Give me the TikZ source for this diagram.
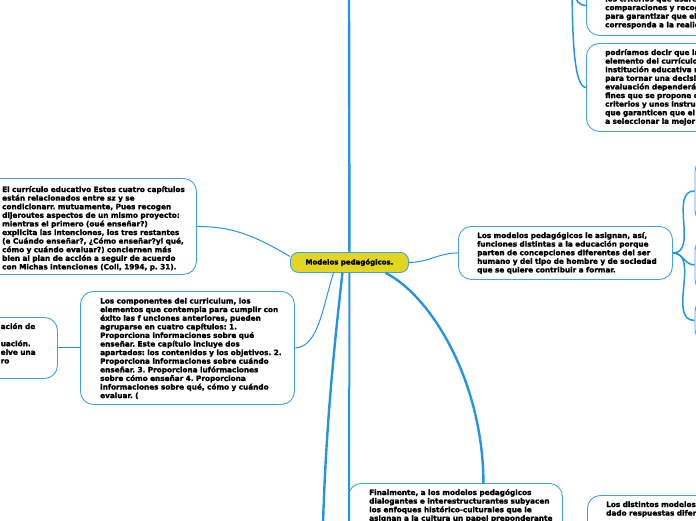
\documentclass[tikz,border=0pt]{standalone}
\usepackage{fontspec}
\setmainfont{DejaVu Sans}[BoldFeatures={FakeBold=2}]
\definecolor{linec}{RGB}{38,148,226}
\definecolor{bordc}{RGB}{64,163,233}
\definecolor{centfill}{RGB}{226,214,32}
\newcommand{\mmfont}{\fontsize{7.3}{8.6}\selectfont\bfseries\frenchspacing}
\newcommand{\mmcfont}{\fontsize{7.0}{8.6}\selectfont\bfseries\frenchspacing}
\begin{document}
\begin{tikzpicture}[x=1pt,y=-1pt,
  box/.style={draw=bordc, line width=0.9pt, rounded corners=13pt, fill=white, inner sep=0pt, anchor=north west},
  txt/.style={font=\mmfont, align=left, inner sep=0pt, anchor=base west, text width=260pt},
  thin link/.style={draw=linec, line width=1pt},
  mid link/.style={draw=linec, line width=1.5pt},
  main link/.style={draw=linec, line width=2.4pt},
]
\useasboundingbox (0,0) rectangle (696,520);

% boxes
\node[box, minimum width=216pt, minimum height=96pt] (b1) at (-20,178) {};
\node[box, minimum width=97pt, minimum height=61pt] (bac) at (-40,317) {};
\node[box, minimum width=214pt, minimum height=113pt] (comp) at (80,291) {};
\node[box, fill=centfill, rounded corners=8pt, minimum width=118pt, minimum height=20pt, font=\mmcfont] (c) at (290,252) {Modelos pedagógicos.};
\node[box, minimum width=214pt, minimum height=53pt] (mod) at (458,226) {};
\node[box, minimum width=214pt, minimum height=80pt] (fin) at (348,483) {};
\node[box, minimum width=150pt, minimum height=60pt] (dist) at (587,495) {};
\node[box, minimum width=150pt, minimum height=60pt] (bA) at (586,-25) {};
\node[box, minimum width=150pt, minimum height=88pt] (bB) at (586,43) {};
\node[box, minimum width=100pt, minimum height=65pt] (r1) at (694.5,158) {};
\node[box, minimum width=100pt, minimum height=55pt] (r2) at (694.5,237) {};
\node[box, minimum width=100pt, minimum height=44pt] (r3) at (694.5,298) {};

% free ends
\coordinate (topend) at (349,-5);
\coordinate (botend) at (349,525);
\coordinate (botleft) at (323,525);
\coordinate (trsrc) at (572,-30);

% connectors
\draw[main link] (c.north) -- (topend);
\draw[main link, line width=2pt] (c.south) -- (botend);
\draw[main link] ([xshift=-7pt]c.south) .. controls (336,330) and (326,420) .. (botleft);
\draw[main link] ([xshift=36pt]c.south) .. controls (430,295) and (483,380) .. ([xshift=28pt]fin.north);
\draw[thin link] (b1.east) to[out=0,in=150] ([yshift=6pt]c.west);
\draw[thin link] ([xshift=-16pt]c.south) .. controls (322,310) and (318,347) .. (comp.east);
\draw[thin link] (c.east) to[out=0,in=180] (mod.west);
\draw[thin link] (bac.east) -- (comp.west);
\draw[mid link] (mod.east) to[out=0,in=180] (r1.west);
\draw[mid link] (mod.east) to[out=0,in=180] (r2.west);
\draw[mid link] (mod.east) to[out=0,in=180] (r3.west);
\draw[mid link] (trsrc) to[out=-80,in=180] (bA.west);
\draw[mid link] (trsrc) .. controls (572,40) and (574,87) .. (bB.west);

% texts
\node[txt] (t1) at (2,192) {El currículo educativo Estos cuatro capítulos\\
están relacionados entre sz y se\\
condicionarr. mutuamente, Pues recogen\\
dijeroutes aspectos de un mismo proyecto:\\
mientras el primero (oué enseñar?)\\
explicita las intenciones, los tres restantes\\
(e Cuándo enseñar?, ¿Cómo enseñar?yl qué,\\
cómo y cuándo evaluar?) conciernen más\\
bien al plan de acción a seguir de acuerdo\\
con Michas intenciones (Coll, 1994, p. 31).};

\node[txt] (tac) at (0.5,329) {ación de\\
\mbox{}\\
uación.\\
elve una\\
ro};

\node[txt] (tcomp) at (100,303.5) {Los componentes del curriculum, los\\
elementos que contempla para cumplir con\\
éxito las f unciones anteriores, pueden\\
agruparse en cuatro capítulos: 1.\\
Proporciona informaciones sobre qué\\
enseñar. Este capítulo incluye dos\\
apartados: los contenidos y los objetivos. 2.\\
Proporciona informaciones sobre cuándo\\
enseñar. 3. Proporciona lufórmaciones\\
sobre cómo enseñar 4. Proporciona\\
informaciones sobre qué, cómo y cuándo\\
evaluar. (};

\node[txt] (tmod) at (477,238) {Los modelos pedagógicos le asignan, así,\\
funciones distintas a la educación porque\\
parten de concepciones diferentes del ser\\
humano y del tipo de hombre y de sociedad\\
que se quiere contribuir a formar.};

\node[txt] (tfin) at (369,495) {Finalmente, a los modelos pedagógicos\\
dialogantes e interestructurantes subyacen\\
los enfoques histórico-culturales que le\\
asignan a la cultura un papel preponderante};

\node[txt] (tdist) at (606,507) {Los distintos modelos p\\
dado respuestas difere};

\node[txt] (tA) at (605,1.5) {los criterios que usarén\\
comparaciones y recogen\\
para garantizar que el j\\
corresponda a la realid};

\node[txt] (tB) at (605,55) {podríamos decir que la\\
elemento del currículo\\
institución educativa re\\
para tornar una decisió\\
evaluación dependerá e\\
fines que se propone cu\\
criterios y unos instrum\\
que garanticen que el c\\
a seleccionar la mejor e};
\end{tikzpicture}
\end{document}
